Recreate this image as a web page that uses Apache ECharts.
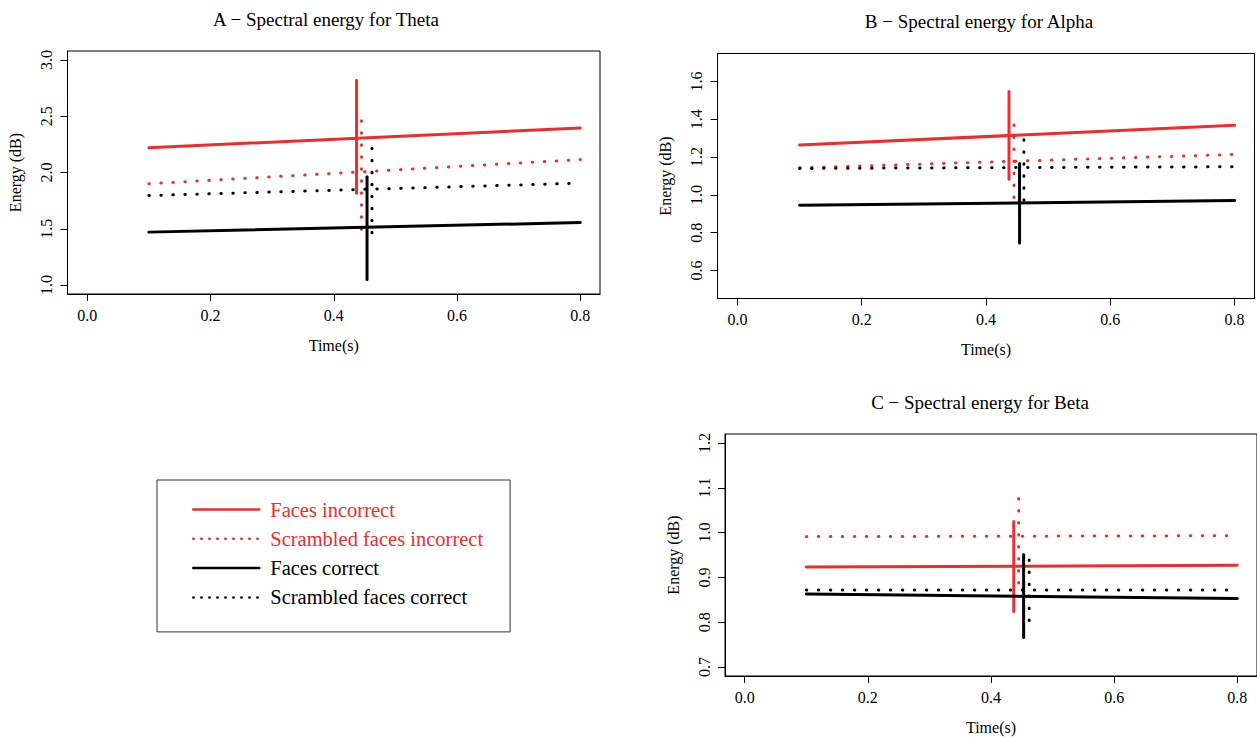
<!DOCTYPE html>
<html>
<head>
<meta charset="utf-8">
<script src="https://cdn.jsdelivr.net/npm/echarts@6/dist/echarts.min.js"></script>
<style>
html,body{margin:0;padding:0;background:#ffffff;}
#chart{width:1257px;height:737px;}
</style>
</head>
<body>
<div id="chart"></div>
<script>
// ---------------- data ----------------
const panelTitles = [
  'A \u2212 Spectral energy for Theta',
  'B \u2212 Spectral energy for Alpha',
  'C \u2212 Spectral energy for Beta'
];
const seriesNames = ['Faces incorrect', 'Scrambled faces incorrect', 'Faces correct', 'Scrambled faces correct'];
const xAxisTitle = 'Time(s)';
const yAxisTitle = 'Energy (dB)';

const timeLimits = [0, 0.8];
const timeTicks = [0, 0.2, 0.4, 0.6, 0.8];
const lineTimes = [0.1, 0.8];

// Panel A – Theta
const thetaLimits = [1, 3];
const thetaTicks = [1.0, 1.5, 2.0, 2.5, 3.0];
const thetaStart = [2.22, 1.90, 1.47, 1.795];
const thetaEnd = [2.395, 2.115, 1.555, 1.905];
const thetaBarTime = [0.437, 0.445, 0.454, 0.462];
const thetaBarLow = [1.815, 1.495, 1.05, 1.465];
const thetaBarHigh = [2.82, 2.547, 1.963, 2.307];

// Panel B – Alpha
const alphaLimits = [0.5, 1.7];
const alphaTicks = [0.6, 0.8, 1.0, 1.2, 1.4, 1.6];
const alphaStart = [1.264, 1.143, 0.945, 1.140];
const alphaEnd = [1.368, 1.214, 0.970, 1.149];
const alphaBarTime = [0.437, 0.445, 0.454, 0.461];
const alphaBarLow = [1.083, 0.986, 0.745, 0.972];
const alphaBarHigh = [1.547, 1.427, 1.166, 1.349];

// Panel C – Beta
const betaLimits = [0.7, 1.2];
const betaTicks = [0.7, 0.8, 0.9, 1.0, 1.1, 1.2];
const betaStart = [0.923, 0.991, 0.863, 0.872];
const betaEnd = [0.927, 0.993, 0.853, 0.872];
const betaBarTime = [0.437, 0.445, 0.453, 0.462];
const betaBarLow = [0.824, 0.8875, 0.766, 0.804];
const betaBarHigh = [1.025, 1.101, 0.951, 0.963];

// ---------------- styles / layout ----------------
const RED = '#EE2C2C';
const BLACK = '#000000';
const seriesColors = [RED, RED, BLACK, BLACK];
const seriesDotted = [false, true, false, true];
const FONT = '"Liberation Serif", "Times New Roman", Times, serif';

const panels = [
  { title: panelTitles[0], lim: thetaLimits, ticks: thetaTicks, start: thetaStart, end: thetaEnd,
    barTime: thetaBarTime, low: thetaBarLow, high: thetaBarHigh,
    grid: { left: 67.5, top: 51, width: 532.5, height: 243 }, titleX: 326, titleY: 10 },
  { title: panelTitles[1], lim: alphaLimits, ticks: alphaTicks, start: alphaStart, end: alphaEnd,
    barTime: alphaBarTime, low: alphaBarLow, high: alphaBarHigh,
    grid: { left: 717.5, top: 53.5, width: 537, height: 245 }, titleX: 979, titleY: 12 },
  { title: panelTitles[2], lim: betaLimits, ticks: betaTicks, start: betaStart, end: betaEnd,
    barTime: betaBarTime, low: betaBarLow, high: betaBarHigh,
    grid: { left: 725, top: 434, width: 534, height: 242 }, titleX: 980, titleY: 392.5 }
];

// R's default 4% axis extension
function extend(lim) {
  const d = (lim[1] - lim[0]) * 0.04;
  return [lim[0] - d, lim[1] + d];
}
const xr = extend(timeLimits);

const grids = [], xAxes = [], yAxes = [], titles = [], series = [];

panels.forEach((p, i) => {
  grids.push(Object.assign({ show: true, borderColor: '#000', borderWidth: 1, backgroundColor: 'transparent', containLabel: false }, p.grid));
  titles.push({
    text: p.title, left: p.titleX, top: p.titleY, textAlign: 'center', padding: 0,
    textStyle: { fontFamily: FONT, fontSize: 19, fontWeight: 'normal', color: '#000' }
  });
  xAxes.push({
    type: 'value', gridIndex: i, min: xr[0], max: xr[1], position: 'bottom',
    name: xAxisTitle, nameLocation: 'middle', nameGap: 43,
    nameTextStyle: { fontFamily: FONT, fontSize: 16, color: '#000' },
    axisLine: { show: true, onZero: false, lineStyle: { color: '#000', width: 1 } },
    axisTick: { show: true, inside: false, length: 7, lineStyle: { color: '#000', width: 1 }, customValues: timeTicks },
    axisLabel: { show: true, margin: 13, fontFamily: FONT, fontSize: 16, color: '#000',
      customValues: timeTicks, formatter: v => v.toFixed(1) },
    splitLine: { show: false }
  });
  const yr = extend(p.lim);
  yAxes.push({
    type: 'value', gridIndex: i, min: yr[0], max: yr[1], position: 'left',
    name: yAxisTitle, nameLocation: 'middle', nameGap: 44, nameRotate: 90,
    nameTextStyle: { fontFamily: FONT, fontSize: 16, color: '#000' },
    axisLine: { show: true, onZero: false, lineStyle: { color: '#000', width: 1 } },
    axisTick: { show: true, inside: false, length: 7, lineStyle: { color: '#000', width: 1 }, customValues: p.ticks },
    axisLabel: { show: true, rotate: 90, margin: 13, fontFamily: FONT, fontSize: 16, color: '#000',
      customValues: p.ticks, formatter: v => v.toFixed(1) },
    splitLine: { show: false }
  });
  seriesNames.forEach((name, k) => {
    const lineStyle = {
      color: seriesColors[k], width: 3, cap: 'round',
      type: seriesDotted[k] ? [0.5, 11.5] : 'solid'
    };
    const common = {
      type: 'line', name: name, xAxisIndex: i, yAxisIndex: i, symbol: 'none',
      lineStyle: lineStyle, itemStyle: { color: seriesColors[k] },
      silent: true, animation: false, clip: false
    };
    series.push(Object.assign({}, common, {
      data: [[lineTimes[0], p.start[k]], [lineTimes[1], p.end[k]]]
    }));
    series.push(Object.assign({}, common, {
      data: [[p.barTime[k], p.low[k]], [p.barTime[k], p.high[k]]]
    }));
  });
});

const option = {
  backgroundColor: '#ffffff',
  animation: false,
  title: titles,
  grid: grids,
  xAxis: xAxes,
  yAxis: yAxes,
  legend: {
    left: 157, top: 480, orient: 'vertical',
    padding: [19, 27, 24, 35],
    itemWidth: 66, itemHeight: 14, itemGap: 8.3,
    borderColor: '#333', borderWidth: 1, backgroundColor: '#fff',
    selectedMode: false,
    textStyle: { fontFamily: FONT, fontSize: 20.5, padding: [0, 0, 0, 6] },
    data: seriesNames.map((n, k) => ({
      name: n,
      textStyle: { color: seriesColors[k] },
      itemStyle: { color: 'rgba(0,0,0,0)', borderWidth: 0, opacity: 0 },
      lineStyle: { width: 2.5, color: seriesColors[k], type: seriesDotted[k] ? [0.5, 7.5] : 'solid', cap: 'round', opacity: 1 }
    }))
  },
  series: series
};

const chart = echarts.init(document.getElementById('chart'), null, { renderer: 'svg', width: 1257, height: 737 });
chart.setOption(option);
</script>
</body>
</html>
